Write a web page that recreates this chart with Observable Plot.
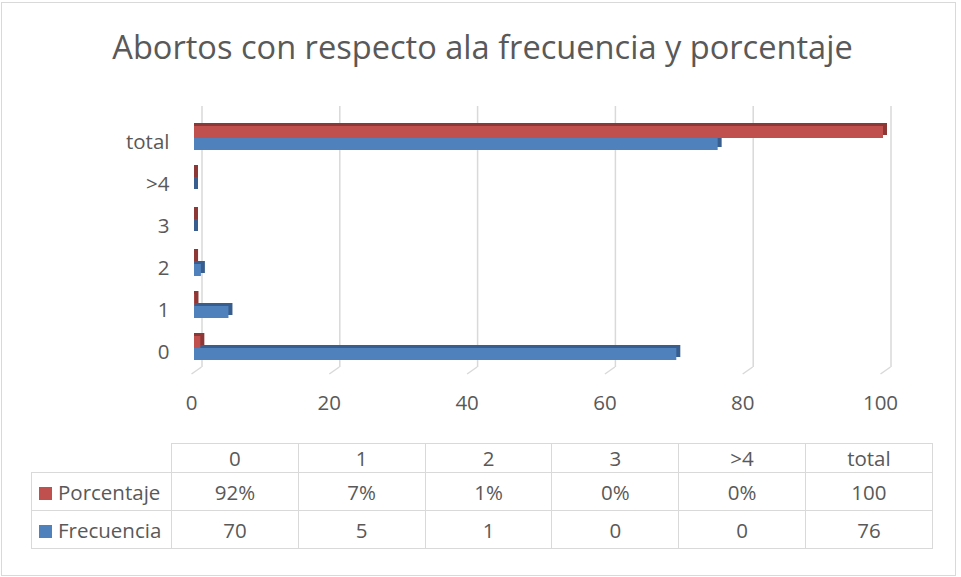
<!DOCTYPE html>
<html><head><meta charset="utf-8">
<script src="https://cdn.jsdelivr.net/npm/d3@7"></script>
<script src="https://cdn.jsdelivr.net/npm/@observablehq/plot@0.6"></script>
<style>
body{margin:0;background:#fff;}
#chart{position:relative;width:961px;height:577px;font-family:"Open Sans",sans-serif;color:#595959;overflow:hidden;}
#frame{position:absolute;left:1px;top:2px;width:955px;height:574px;border:1.5px solid #d9d9d9;box-sizing:border-box;}
#title{position:absolute;left:0;width:965px;top:25px;text-align:center;font-size:32.6px;line-height:44px;white-space:nowrap;}
#plot{position:absolute;left:0;top:90px;}
table{position:absolute;left:31px;top:443px;border-collapse:collapse;font-size:20.5px;table-layout:fixed;}
td{border:1.5px solid #d9d9d9;text-align:center;padding:0;height:37px;}
tr.head td{height:28px;}
td.leg{text-align:left;padding-left:7px;white-space:nowrap;}
td.blank{border-top:none;border-left:none;}
.sw{display:inline-block;width:13px;height:13px;margin-right:6px;vertical-align:0px;}
</style></head>
<body>
<div id="chart">
  <div id="frame"></div>
  <div id="title"></div>
  <div id="plot"></div>
  <table id="tbl"></table>
</div>
<script>
const titulo = "Abortos con respecto ala frecuencia y porcentaje";
const categorias = ["0", "1", "2", "3", ">4", "total"];
const porcentaje = [0.92, 0.07, 0.01, 0, 0, 100];
const frecuencia = [70, 5, 1, 0, 0, 76];
const porcentajeEtiquetas = ["92%", "7%", "1%", "0%", "0%", "100"];
const frecuenciaEtiquetas = ["70", "5", "1", "0", "0", "76"];
const xTicks = [0, 20, 40, 60, 80, 100];
const series = ["Porcentaje", "Frecuencia"];
const colores = ["#C0504D", "#4F81BD"];
const coloresOscuros = ["#8C3836", "#385E8F"];

document.getElementById("title").textContent = titulo;

const rows = categorias.map((c, i) => ({cat: c, p: porcentaje[i], f: frecuencia[i]}));
const half = 12;

function feet(index, scales, values, dims) {
  const x = scales.x;
  const g = d3.create("svg:g").attr("stroke", "#d9d9d9").attr("stroke-width", 1.5);
  const yb = dims.height - dims.marginBottom - 16;
  for (const t of xTicks) {
    g.append("line").attr("x1", x(t) + 7.5).attr("y1", yb).attr("x2", x(t) - 2.5).attr("y2", yb + 7);
  }
  return g.node();
}

const chart = Plot.plot({
  width: 961,
  height: 340,
  marginLeft: 194,
  marginRight: 78,
  marginTop: 12,
  marginBottom: 47,
  style: {fontFamily: "'Open Sans', sans-serif", fontSize: "20.5px", color: "#595959", background: "transparent"},
  x: {domain: [0, 100], label: null},
  y: {domain: [...categorias].reverse(), paddingInner: 0.438, paddingOuter: 0.5, align: 0.5, label: null},
  marks: [
    Plot.ruleX(xTicks, {stroke: "#d9d9d9", strokeWidth: 1.5, dx: 7.5, insetTop: 4, insetBottom: 16}),
    feet,
    Plot.barX(rows, {x1: 0, x2: "f", y: "cat", insetTop: half, insetRight: -4, dy: -3, fill: coloresOscuros[1]}),
    Plot.barX(rows, {x1: 0, x2: "p", y: "cat", insetBottom: half, insetRight: -4, dy: -3, fill: coloresOscuros[0]}),
    Plot.barX(rows, {x1: 0, x2: "p", y: "cat", insetBottom: half, fill: colores[0]}),
    Plot.barX(rows, {x1: 0, x2: "f", y: "cat", insetTop: half, fill: colores[1]}),
    Plot.axisX({ticks: xTicks, tickSize: 0, tickPadding: 12, dx: -3, fill: "#595959", label: null}),
    Plot.axisY({tickSize: 0, tickPadding: 25, dy: 3.5, fill: "#595959", label: null})
  ]
});
document.getElementById("plot").append(chart);

// data table under the chart
const tbl = d3.select("#tbl");
const cg = tbl.append("colgroup");
cg.append("col").style("width", "140px");
categorias.forEach(() => cg.append("col").style("width", "126.8px"));
const head = tbl.append("tr").attr("class", "head");
head.append("td").attr("class", "blank");
categorias.forEach(c => head.append("td").text(c));
[[series[0], colores[0], porcentajeEtiquetas], [series[1], colores[1], frecuenciaEtiquetas]].forEach(([name, col, labs]) => {
  const tr = tbl.append("tr");
  const td = tr.append("td").attr("class", "leg");
  td.append("span").attr("class", "sw").style("background", col);
  td.append("span").text(name);
  labs.forEach(l => tr.append("td").text(l));
});
</script>
</body></html>
